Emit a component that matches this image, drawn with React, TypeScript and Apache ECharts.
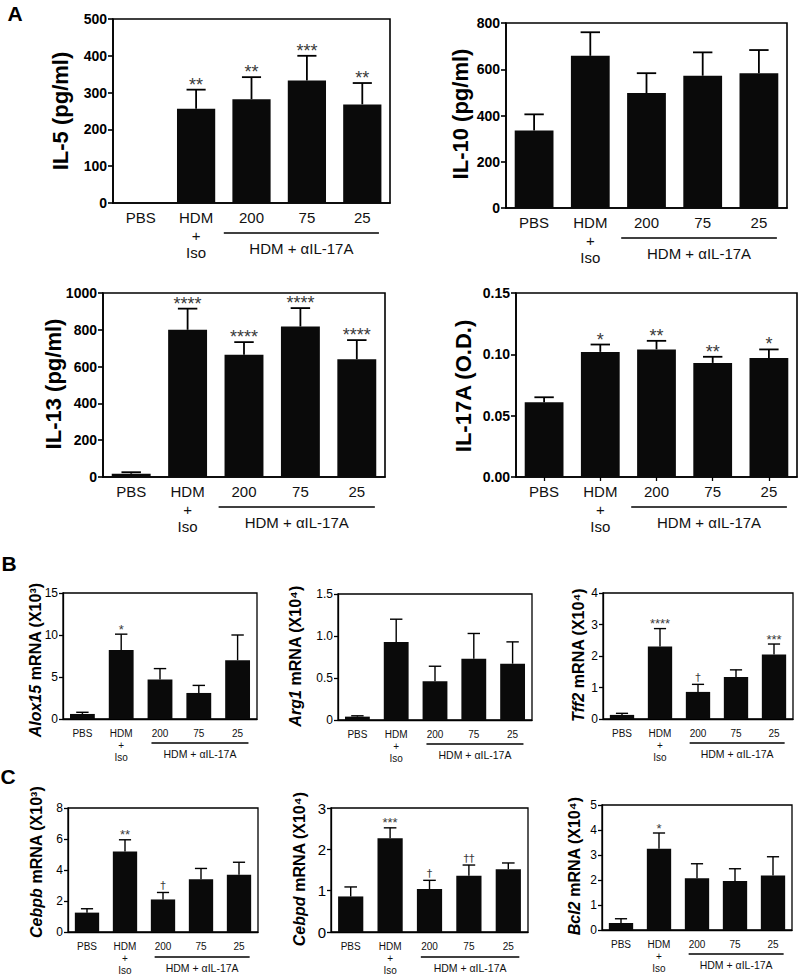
import React, { useEffect, useRef } from 'react';
import * as echarts from 'echarts';

const categories = ['PBS', 'HDM\n+\nIso', '200', '75', '25'];
const groupLabel = 'HDM + αIL-17A';

// Panel A
const il5Mean = [0, 256, 282, 333, 268];
const il5Err = [0, 308, 342, 400, 326];
const il5Sig = ['', '**', '**', '***', '**'];

const il10Mean = [335, 658, 497, 572, 583];
const il10Err = [405, 760, 583, 673, 683];
const il10Sig = ['', '', '', '', ''];

const il13Mean = [18, 800, 665, 818, 640];
const il13Err = [26, 915, 733, 918, 744];
const il13Sig = ['', '****', '****', '****', '****'];

const il17Mean = [0.061, 0.102, 0.104, 0.093, 0.097];
const il17Err = [0.065, 0.108, 0.111, 0.098, 0.104];
const il17Sig = ['', '*', '**', '**', '*'];

// Panel B
const alox15Mean = [0.6, 8.2, 4.7, 3.1, 7.0];
const alox15Err = [0.8, 10.1, 6.0, 4.0, 10.0];
const alox15Sig = ['', '*', '', '', ''];

const arg1Mean = [0.04, 0.93, 0.46, 0.73, 0.67];
const arg1Err = [0.05, 1.2, 0.64, 1.03, 0.93];
const arg1Sig = ['', '', '', '', ''];

const tff2Mean = [0.13, 2.3, 0.86, 1.33, 2.05];
const tff2Err = [0.18, 2.87, 1.1, 1.56, 2.38];
const tff2Sig = ['', '****', '†', '', '***'];

// Panel C
const cebpbMean = [1.25, 5.2, 2.1, 3.4, 3.7];
const cebpbErr = [1.5, 5.95, 2.55, 4.1, 4.5];
const cebpbSig = ['', '**', '†', '', ''];

const cebpdMean = [0.86, 2.27, 1.04, 1.36, 1.52];
const cebpdErr = [1.09, 2.52, 1.25, 1.62, 1.67];
const cebpdSig = ['', '***', '†', '††', ''];

const bcl2Mean = [0.28, 3.25, 2.07, 1.96, 2.18];
const bcl2Err = [0.45, 3.88, 2.65, 2.45, 2.93];
const bcl2Sig = ['', '*', '', '', ''];

const FONT = '"Liberation Sans", Arial, Helvetica, sans-serif';

type Panel = {
  mean: number[];
  err: number[];
  sig: string[];
  max: number;
  interval: number;
  fmt: (v: number) => string;
  title: string;
  big: boolean;
  left: number;
  top: number;
  width: number;
  height: number;
  titleX: number;
  titleY: number;
  yFont?: number;
  xTicks?: boolean;
  lineStart: number;
  lineEnd: number;
};

const intFmt = (v: number) => String(v);

const panels: Panel[] = [
  {
    mean: il5Mean, err: il5Err, sig: il5Sig, max: 500, interval: 100, fmt: intFmt,
    title: 'IL-5 (pg/ml)', big: true,
    left: 113, top: 19, width: 277, height: 184, titleX: 60, titleY: 111,
    lineStart: -0.5, lineEnd: 0.3,
  },
  {
    mean: il10Mean, err: il10Err, sig: il10Sig, max: 800, interval: 200, fmt: intFmt,
    title: 'IL-10 (pg/ml)', big: true,
    left: 506, top: 23, width: 281, height: 185, titleX: 460, titleY: 114,
    lineStart: -0.45, lineEnd: 0.32,
  },
  {
    mean: il13Mean, err: il13Err, sig: il13Sig, max: 1000, interval: 200, fmt: intFmt,
    title: 'IL-13 (pg/ml)', big: true,
    left: 103, top: 293, width: 282, height: 184, titleX: 53, titleY: 384,
    lineStart: -0.45, lineEnd: 0.32,
  },
  {
    mean: il17Mean, err: il17Err, sig: il17Sig, max: 0.15, interval: 0.05,
    fmt: (v: number) => v.toFixed(2),
    title: 'IL-17A (O.D.)', big: true,
    left: 516, top: 293, width: 281, height: 184, titleX: 463, titleY: 386,
    xTicks: true, lineStart: -0.45, lineEnd: 0.32,
  },
  {
    mean: alox15Mean, err: alox15Err, sig: alox15Sig, max: 15, interval: 5, fmt: intFmt,
    title: '{i|Alox15} mRNA (X10³)', big: false,
    left: 63, top: 593, width: 194, height: 126, titleX: 35, titleY: 660,
    lineStart: -0.22, lineEnd: 0.28,
  },
  {
    mean: arg1Mean, err: arg1Err, sig: arg1Sig, max: 1.5, interval: 0.5,
    fmt: (v: number) => (v === 0 ? '0' : v.toFixed(1)),
    title: '{i|Arg1} mRNA (X10⁴)', big: false,
    left: 338, top: 594, width: 194, height: 126, titleX: 295, titleY: 656,
    lineStart: -0.22, lineEnd: 0.28,
  },
  {
    mean: tff2Mean, err: tff2Err, sig: tff2Sig, max: 4, interval: 1, fmt: intFmt,
    title: '{i|Tff2} mRNA (X10⁴)', big: false,
    left: 603, top: 593, width: 190, height: 126, titleX: 578, titleY: 655,
    lineStart: -0.22, lineEnd: 0.28,
  },
  {
    mean: cebpbMean, err: cebpbErr, sig: cebpbSig, max: 8, interval: 2, fmt: intFmt,
    title: '{i|Cebpb} mRNA (X10³)', big: false,
    left: 68, top: 808, width: 190, height: 125, titleX: 36, titleY: 862,
    lineStart: -0.22, lineEnd: 0.28,
  },
  {
    mean: cebpdMean, err: cebpdErr, sig: cebpdSig, max: 3, interval: 1, fmt: intFmt,
    title: '{i|Cebpd} mRNA (X10⁴)', big: false, yFont: 15,
    left: 331, top: 808, width: 197, height: 125, titleX: 299, titleY: 869,
    lineStart: -0.22, lineEnd: 0.28,
  },
  {
    mean: bcl2Mean, err: bcl2Err, sig: bcl2Sig, max: 5, interval: 1, fmt: intFmt,
    title: '{i|Bcl2} mRNA (X10⁴)', big: false,
    left: 602, top: 805, width: 190, height: 125, titleX: 574, titleY: 866,
    lineStart: -0.22, lineEnd: 0.28,
  },
];

function buildOption() {
  const grid: any[] = [];
  const xAxis: any[] = [];
  const yAxis: any[] = [];
  const series: any[] = [];
  const graphic: any[] = [];

  panels.forEach((p, i) => {
    const big = p.big;
    const barRatio = big ? 0.69 : 0.64;
    grid.push({
      left: p.left, top: p.top, width: p.width, height: p.height,
      show: true, borderColor: '#000', borderWidth: big ? 1.6 : 1.3,
      backgroundColor: 'transparent',
    });
    xAxis.push({
      type: 'category', gridIndex: i, data: categories,
      axisLine: { lineStyle: { color: '#000', width: big ? 1.6 : 1.3 } },
      axisTick: { show: !!p.xTicks, alignWithLabel: true, length: 4, lineStyle: { color: '#000', width: 1.3 } },
      axisLabel: {
        interval: 0, color: '#111', fontFamily: FONT,
        fontSize: big ? 15 : 10, lineHeight: big ? 17.5 : 12, margin: big ? 6 : 8,
      },
    });
    yAxis.push({
      type: 'value', gridIndex: i, min: 0, max: p.max, interval: p.interval,
      axisLine: { show: true, lineStyle: { color: '#000', width: big ? 1.6 : 1.3 } },
      axisTick: { show: true, length: big ? 5 : 4, lineStyle: { color: '#000', width: big ? 1.6 : 1.3 } },
      splitLine: { show: false },
      axisLabel: {
        formatter: p.fmt, color: '#000', fontFamily: FONT,
        fontSize: big ? 14 : (p.yFont || 12), fontWeight: big ? 'bold' : 'normal',
        margin: big ? 6 : 5,
      },
    });
    series.push({
      type: 'bar', xAxisIndex: i, yAxisIndex: i, data: p.mean,
      barWidth: `${barRatio * 100}%`,
      itemStyle: { color: '#0a0a0a' },
      silent: true, z: 2,
    });
    const sigs = p.sig;
    const lw = big ? 1.8 : 1.4;
    series.push({
      type: 'custom', xAxisIndex: i, yAxisIndex: i, z: 3, silent: true,
      encode: { x: 0, y: [1, 2] },
      data: p.mean.map((m, j) => [j, m, p.err[j]]),
      renderItem: (params: any, api: any) => {
        const idx = api.value(0);
        const m = api.value(1);
        const e = api.value(2);
        const base = api.coord([idx, m]);
        const tp = api.coord([idx, e]);
        const band = api.size([1, 0])[0];
        const half = band * barRatio * 0.25;
        const children: any[] = [];
        if (e > m) {
          children.push({
            type: 'line',
            shape: { x1: base[0], y1: base[1], x2: tp[0], y2: tp[1] },
            style: { stroke: '#000', lineWidth: lw },
          });
          children.push({
            type: 'line',
            shape: { x1: tp[0] - half, y1: tp[1], x2: tp[0] + half, y2: tp[1] },
            style: { stroke: '#000', lineWidth: lw },
          });
        }
        const s = sigs[params.dataIndex];
        if (s) {
          const dag = s.indexOf('†') >= 0;
          children.push({
            type: 'text',
            x: tp[0],
            y: tp[1] - (dag ? 7 : 5),
            style: {
              text: s, fill: '#3a3a3a',
              fontFamily: dag ? '"DejaVu Sans", sans-serif' : FONT,
              fontSize: big ? 18 : (dag ? 11 : 13),
              align: 'center', verticalAlign: 'middle',
            },
          });
        }
        return { type: 'group', children };
      },
    });

    graphic.push({
      type: 'text',
      x: p.titleX, y: p.titleY, rotation: Math.PI / 2,
      style: {
        text: p.title, fill: '#000', fontFamily: FONT,
        fontSize: big ? 22 : 16, fontWeight: 'bold',
        align: 'center', verticalAlign: 'middle',
        rich: {
          i: { fontStyle: 'italic', fontWeight: 'bold', fontSize: 16, fontFamily: FONT, fill: '#000' },
        },
      },
    });

    const band = p.width / categories.length;
    const c200 = p.left + band * 2.5;
    const c25 = p.left + band * 4.5;
    const x1 = c200 + p.lineStart * band;
    const x2 = c25 + p.lineEnd * band;
    const bottom = p.top + p.height;
    const lineOff = big ? 30 : 24;
    const textOff = big ? 45 : 35;
    graphic.push({
      type: 'line',
      shape: { x1, y1: bottom + lineOff, x2, y2: bottom + lineOff },
      style: { stroke: '#000', lineWidth: big ? 1.5 : 1.3 },
    });
    graphic.push({
      type: 'text',
      x: (x1 + x2) / 2, y: bottom + textOff,
      style: {
        text: groupLabel, fill: '#111', fontFamily: FONT,
        fontSize: big ? 15 : 10.5, align: 'center', verticalAlign: 'middle',
      },
    });
  });

  const letters: [string, number, number][] = [['A', 15, 13], ['B', 9, 563], ['C', 8, 776]];
  letters.forEach(([t, x, y]) => {
    graphic.push({
      type: 'text', x, y,
      style: {
        text: t, fill: '#000', fontFamily: FONT, fontSize: 21, fontWeight: 'bold',
        align: 'center', verticalAlign: 'middle',
      },
    });
  });

  return {
    animation: false,
    backgroundColor: '#fff',
    grid, xAxis, yAxis, series, graphic,
  };
}

export default function App() {
  const ref = useRef<HTMLDivElement>(null);
  useEffect(() => {
    if (!ref.current) return;
    const chart = echarts.init(ref.current, undefined, { renderer: 'svg' });
    chart.setOption(buildOption() as any);
    return () => chart.dispose();
  }, []);
  return (
    <div
      ref={ref}
      style={{ position: 'absolute', left: 0, top: 0, width: 800, height: 976, background: '#fff' }}
    />
  );
}
